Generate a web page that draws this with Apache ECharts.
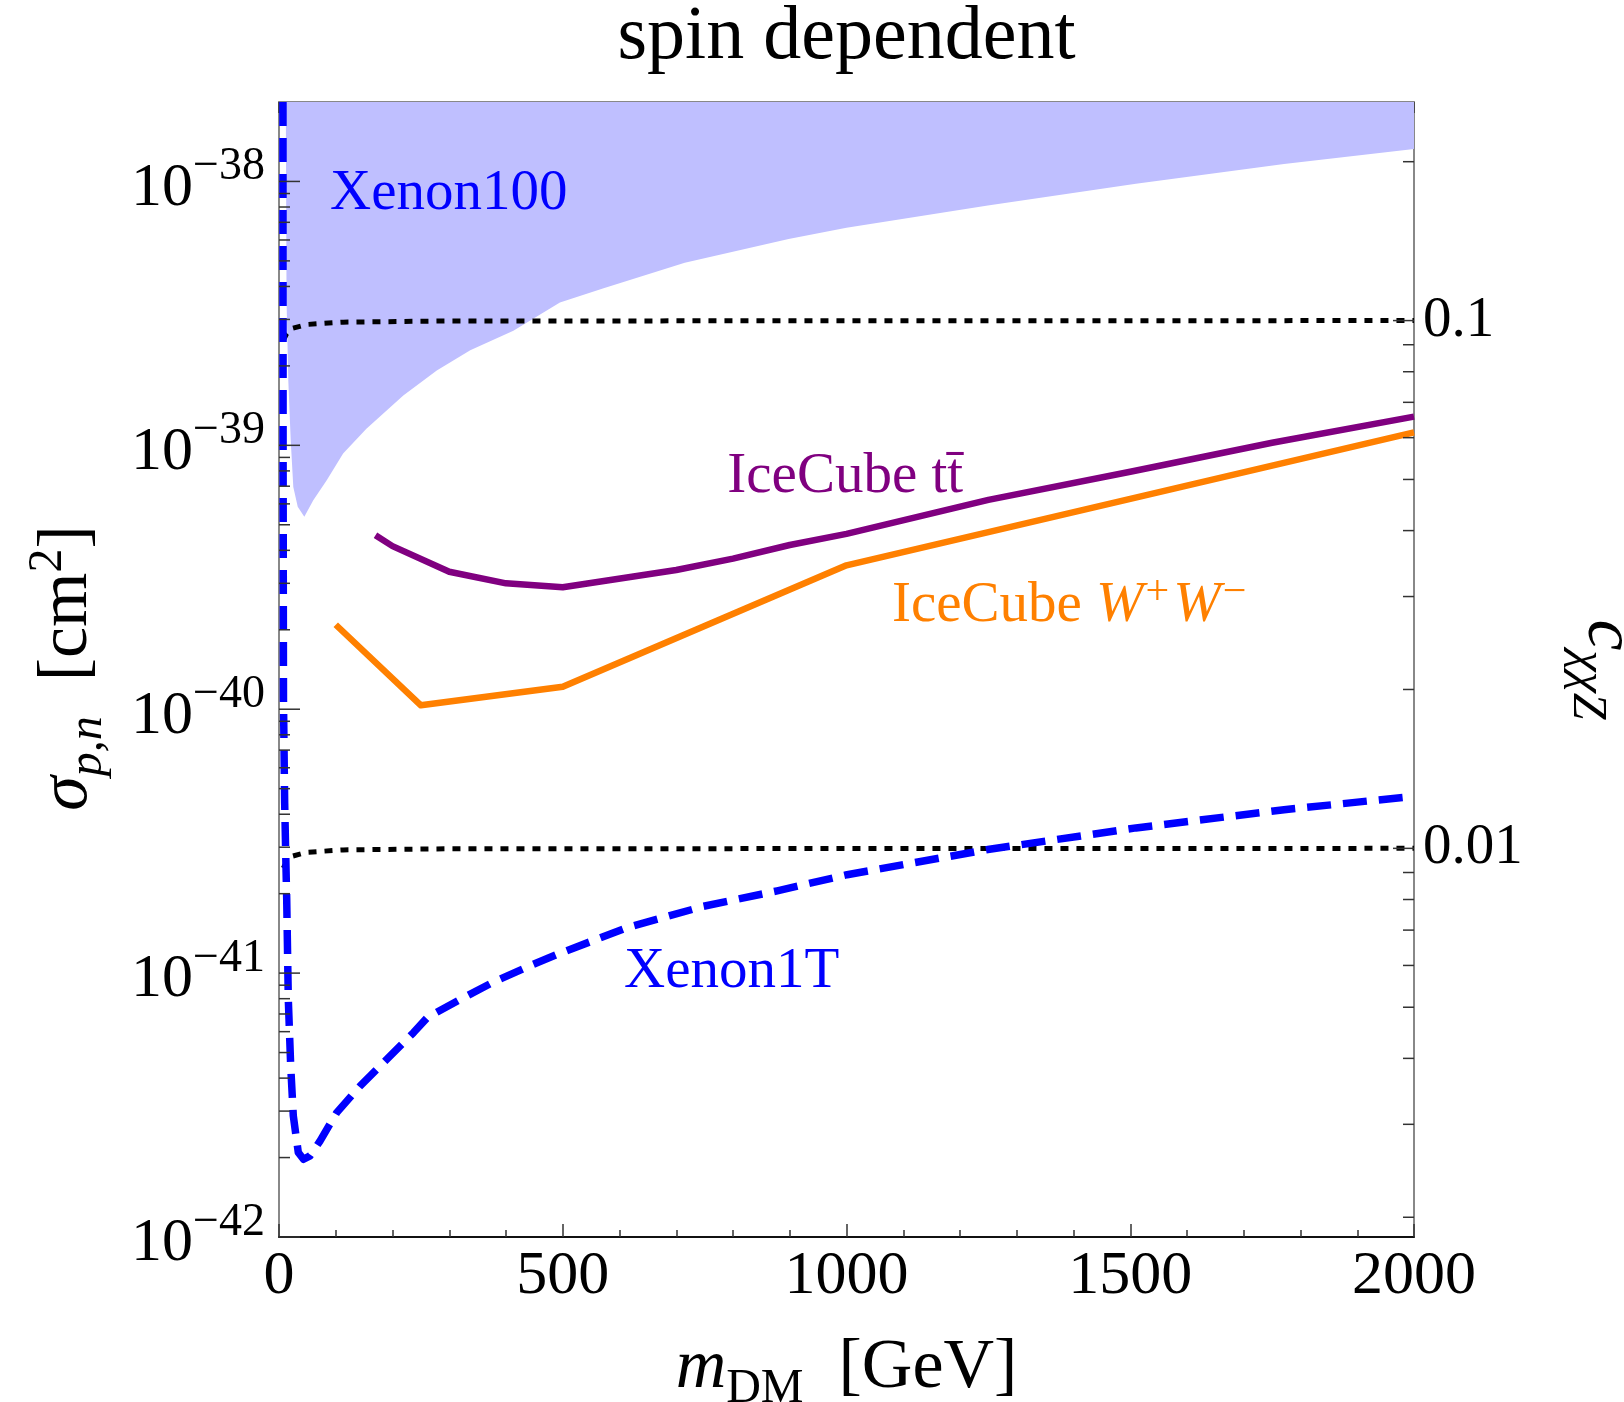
<!DOCTYPE html>
<html>
<head>
<meta charset="utf-8">
<script src="https://cdn.jsdelivr.net/npm/echarts@6/dist/echarts.min.js"></script>
<style>
html,body{margin:0;padding:0;background:#fff;}
#chart{width:1624px;height:1402px;}
</style>
</head>
<body>
<div id="chart"></div>
<script>
// ---------------- data ----------------
const massRange = [0, 2000];              // m_DM [GeV]
const sigmaRange = [1e-42, 2e-38];        // sigma_{p,n} [cm^2]
const sigmaAtUnitCoupling = 2.97e-37;     // sigma for c_chichiZ = 1 (right axis: sigma ∝ c^2)

const massTickInterval = 500;

// Xenon100 excluded region: lower boundary (region extends up to the top of the plot)
const xenon100Boundary = [
  [12, 2.0e-38], [13.3, 3.54e-39], [16.4, 1.76e-39], [20.6, 1.05e-39], [25.2, 6.95e-40],
  [33, 5.85e-40], [44.6, 5.36e-40], [60.4, 6.19e-40], [84.1, 7.38e-40], [113, 9.31e-40],
  [154, 1.156e-39], [219, 1.545e-39], [278, 1.92e-39], [337, 2.29e-39], [413, 2.72e-39],
  [495, 3.48e-39], [572, 3.94e-39], [715, 4.92e-39], [898, 6.05e-39], [1000, 6.68e-39],
  [1249, 8.11e-39], [1510, 9.79e-39], [1771, 1.164e-38], [2000, 1.327e-38]
];

// Xenon1T projected sensitivity (blue dashed)
const xenon1T = [
  [7.0, 2.0e-38], [7.2, 1.0e-39], [7.9, 1.08e-40], [10, 4.4e-41], [12.5, 2.42e-41],
  [13.6, 1.90e-41], [16.4, 7.94e-42], [20.6, 4.45e-42], [25.2, 2.88e-42], [34, 2.09e-42],
  [43.2, 1.97e-42], [54.6, 2.03e-42], [72.2, 2.31e-42], [101.7, 2.96e-42], [142.7, 3.73e-42],
  [189.8, 4.71e-42], [236.7, 5.94e-42], [262, 6.81e-42], [319, 7.94e-42], [377, 9.23e-42],
  [448, 1.079e-41], [495, 1.189e-41], [617, 1.496e-41], [748, 1.791e-41], [878, 2.05e-41],
  [1001, 2.36e-41], [1249, 2.94e-41], [1510, 3.55e-41], [1771, 4.16e-41], [2000, 4.68e-41]
];

// IceCube t tbar (purple)
const iceCubeTT = [
  [170, 4.56e-40], [200, 4.15e-40], [300, 3.32e-40], [400, 3.00e-40], [500, 2.90e-40],
  [700, 3.37e-40], [800, 3.72e-40], [900, 4.19e-40], [1000, 4.62e-40], [1250, 6.21e-40],
  [1500, 7.94e-40], [1750, 1.023e-39], [2000, 1.285e-39]
];

// IceCube W+W- (orange)
const iceCubeWW = [
  [100, 2.09e-40], [250, 1.035e-40], [500, 1.216e-40], [1000, 3.51e-40], [2000, 1.12e-39]
];

// contours of constant c_chichiZ (black dotted)
const cContour01 = [
  [7.6, 2.50e-39], [13.5, 2.65e-39], [22.4, 2.77e-39], [48.8, 2.87e-39], [113, 2.93e-39],
  [300, 2.96e-39], [2000, 2.97e-39]
];
const cContour001 = [
  [7.6, 2.50e-41], [13.5, 2.65e-41], [22.4, 2.77e-41], [48.8, 2.87e-41], [113, 2.93e-41],
  [300, 2.96e-41], [2000, 2.97e-41]
];

// tick definitions
const sigmaDecades = [-42, -41, -40, -39, -38];
const cDecades = [-3, -2, -1];
const minorMantissas = [2, 3, 4, 5, 6, 7, 8, 9];

// curve labels, anchored in data coordinates (left edge, vertical middle)
const labelAnchors = [[90, 8.98e-39], [790, 7.60e-40], [1080, 2.47e-40], [608, 1.01e-41]];
const labelTexts = [
  '{b|Xenon100}',
  '{p|IceCube t}{p|t\u0304}',
  '{o|IceCube }{oi|W}{os|+}{oi|W}{os|\u2212}',
  '{b|Xenon1T}'
];

// ---------------- chart ----------------
const FF = '"Liberation Serif", "Times New Roman", Times, serif';
const cMin = Math.sqrt(sigmaRange[0] / sigmaAtUnitCoupling);
const cMax = Math.sqrt(sigmaRange[1] / sigmaAtUnitCoupling);

function isDecade(v) {
  const e = Math.log10(v);
  return Math.abs(e - Math.round(e)) < 1e-6;
}

// [x, value, tickLength, decadeExponent or null]
const leftTicks = [];
sigmaDecades.forEach(d => {
  [1].concat(minorMantissas).forEach(k => {
    const v = k * Math.pow(10, d);
    if (v >= sigmaRange[0] * 0.999 && v < sigmaRange[1] * 0.999) {
      leftTicks.push([massRange[0], v, k === 1 ? 21 : 11, k === 1 ? d : null]);
    }
  });
});
const rightTicks = [];
cDecades.forEach(d => {
  [1].concat(minorMantissas).forEach(k => {
    const v = k * Math.pow(10, d);
    if (v > cMin && v < cMax) rightTicks.push([massRange[1], v, k === 1 ? 21 : 11]);
  });
});

const tickStyle = {stroke: '#333', lineWidth: 1.5};

const chart = echarts.init(document.getElementById('chart'), null, {renderer: 'canvas'});

const option = {
  backgroundColor: '#fff',
  animation: false,
  graphic: [
    {
      type: 'text', x: 846.5, y: 38, silent: true,
      style: {text: 'spin dependent', fontFamily: FF, fontSize: 76, fill: '#000', align: 'center', verticalAlign: 'middle'}
    },
    {
      type: 'text', x: 68, y: 668, rotation: Math.PI / 2, silent: true,
      style: {
        text: '{s|\u03c3}{sub|p,n}{n|  [cm}{sup|2}{n|]}',
        align: 'center', verticalAlign: 'middle',
        rich: {
          s: {fontFamily: FF, fontSize: 70, lineHeight: 70, fontStyle: 'italic', fill: '#000'},
          sub: {fontFamily: FF, fontSize: 48, lineHeight: 48, fontStyle: 'italic', fill: '#000', padding: [40, 0, 0, 0]},
          n: {fontFamily: FF, fontSize: 70, lineHeight: 70, fill: '#000'},
          sup: {fontFamily: FF, fontSize: 48, lineHeight: 48, fill: '#000', padding: [0, 0, 40, 0]}
        }
      }
    }
  ],
  grid: {left: 279, top: 102, right: 210, bottom: 165, containLabel: false, outerBoundsMode: 'none'},
  xAxis: [{
    type: 'value', position: 'bottom', min: massRange[0], max: massRange[1], interval: massTickInterval,
    axisLine: {show: true, onZero: false, lineStyle: {color: '#111', width: 2}},
    axisTick: {show: true, inside: true, length: 13, lineStyle: {color: '#333', width: 1.5}},
    minorTick: {show: true, splitNumber: 5, length: 7, lineStyle: {color: '#333', width: 1.5}},
    splitLine: {show: false},
    axisLabel: {show: true, margin: 9, fontFamily: FF, fontSize: 62, lineHeight: 62, color: '#000',
      formatter: v => String(v), showMinLabel: true, showMaxLabel: true},
    name: '{m|m}{sub|DM}{n|  [GeV]}',
    nameLocation: 'middle',
    nameGap: 97,
    nameMoveOverlap: false,
    nameTextStyle: {
      rich: {
        m: {fontFamily: FF, fontSize: 70, lineHeight: 70, fontStyle: 'italic', color: '#000'},
        sub: {fontFamily: FF, fontSize: 48, lineHeight: 48, color: '#000', padding: [40, 0, 0, 0]},
        n: {fontFamily: FF, fontSize: 70, lineHeight: 70, color: '#000'}
      }
    }
  }, {
    type: 'value', position: 'top', min: massRange[0], max: massRange[1], interval: massTickInterval,
    axisLine: {show: true, onZero: false, lineStyle: {color: '#888', width: 2}},
    axisTick: {show: true, inside: true, length: 11, lineStyle: {color: '#333', width: 1.5}},
    minorTick: {show: true, splitNumber: 5, length: 7, lineStyle: {color: '#333', width: 1.5}},
    splitLine: {show: false},
    axisLabel: {show: false}
  }],
  yAxis: [{
    type: 'log', logBase: 10, position: 'left', min: sigmaRange[0], max: sigmaRange[1],
    axisLine: {show: true, onZero: false, lineStyle: {color: '#888', width: 2}},
    axisTick: {show: false},
    splitLine: {show: false},
    axisLabel: {show: false}
  }, {
    type: 'log', logBase: 10, position: 'right', min: cMin, max: cMax,
    axisLine: {show: true, onZero: false, lineStyle: {color: '#888', width: 2}},
    axisTick: {show: false},
    splitLine: {show: false},
    axisLabel: {
      show: true, margin: 9, fontFamily: FF, fontSize: 57, color: '#000',
      formatter: v => isDecade(v) ? v.toFixed(-Math.round(Math.log10(v))) : ''
    },
    name: '{c|c}{sub|\u03c7\u03c7Z}',
    nameLocation: 'middle',
    nameRotate: -90,
    nameGap: 158,
    nameMoveOverlap: false,
    nameTextStyle: {
      rich: {
        c: {fontFamily: FF, fontSize: 70, lineHeight: 70, fontStyle: 'italic', color: '#000'},
        sub: {fontFamily: FF, fontSize: 48, lineHeight: 48, fontStyle: 'italic', color: '#000', padding: [40, 0, 0, 0]}
      }
    }
  }],
  series: [
    {
      name: 'Xenon100', type: 'custom', xAxisIndex: 0, yAxisIndex: 0, z: 1, silent: true,
      encode: {x: 0, y: 1},
      data: xenon100Boundary,
      renderItem: (params, api) => {
        if (params.dataIndex !== 0) return null;
        const pts = xenon100Boundary.map(d => api.coord(d));
        pts.push(api.coord([massRange[1], sigmaRange[1]]));
        pts.push(api.coord([xenon100Boundary[0][0], sigmaRange[1]]));
        return {type: 'polygon', shape: {points: pts}, style: {fill: '#bfbfff'}};
      }
    },
    {
      name: 'c=0.1', type: 'line', data: cContour01, showSymbol: false, symbol: 'none',
      lineStyle: {color: '#000', width: 5, type: [8, 8], cap: 'butt'}, z: 2
    },
    {
      name: 'c=0.01', type: 'line', data: cContour001, showSymbol: false, symbol: 'none',
      lineStyle: {color: '#000', width: 5, type: [8, 8], cap: 'butt'}, z: 2
    },
    {
      name: 'IceCube tt', type: 'line', data: iceCubeTT, showSymbol: false, symbol: 'none',
      lineStyle: {color: '#800080', width: 6.5, join: 'round'}, z: 3
    },
    {
      name: 'IceCube WW', type: 'line', data: iceCubeWW, showSymbol: false, symbol: 'none',
      lineStyle: {color: '#ff8000', width: 6.5, join: 'round'}, z: 3
    },
    {
      name: 'Xenon1T', type: 'line', data: xenon1T, showSymbol: false, symbol: 'none',
      lineStyle: {color: '#0000ff', width: 7.5, type: [24, 12], cap: 'butt', join: 'round'}, z: 4
    },
    {
      name: 'leftTicks', type: 'custom', xAxisIndex: 0, yAxisIndex: 0, clip: false, z: 10, silent: true,
      encode: {x: 0, y: 1},
      data: leftTicks,
      renderItem: (params, api) => {
        const p = api.coord([api.value(0), api.value(1)]);
        const children = [{type: 'line', shape: {x1: p[0], y1: p[1], x2: p[0] + api.value(2), y2: p[1]}, style: tickStyle}];
        const exp = leftTicks[params.dataIndex][3];
        if (exp !== null) {
          children.push({
            type: 'text', x: p[0] - 14, y: p[1] + 7,
            style: {
              text: '{b|10}{e|\u2212' + Math.abs(exp) + '}',
              align: 'right', verticalAlign: 'middle',
              rich: {
                b: {fontFamily: FF, fontSize: 62, lineHeight: 62, fill: '#000'},
                e: {fontFamily: FF, fontSize: 46, lineHeight: 46, fill: '#000', padding: [0, 0, 43, 0]}
              }
            }
          });
        }
        return {type: 'group', children: children};
      }
    },
    {
      name: 'rightTicks', type: 'custom', xAxisIndex: 0, yAxisIndex: 1, clip: false, z: 10, silent: true,
      encode: {x: 0, y: 1},
      data: rightTicks,
      renderItem: (params, api) => {
        const p = api.coord([api.value(0), api.value(1)]);
        return {type: 'line', shape: {x1: p[0] - api.value(2), y1: p[1], x2: p[0], y2: p[1]}, style: tickStyle};
      }
    },
    {
      name: 'labels', type: 'custom', xAxisIndex: 0, yAxisIndex: 0, clip: false, z: 11, silent: true,
      encode: {x: 0, y: 1},
      data: labelAnchors,
      renderItem: (params, api) => {
        const p = api.coord([api.value(0), api.value(1)]);
        return {
          type: 'text', x: p[0], y: p[1],
          style: {
            text: labelTexts[params.dataIndex],
            align: 'left', verticalAlign: 'middle',
            rich: {
              b: {fontFamily: FF, fontSize: 57, lineHeight: 57, fill: '#0000ff'},
              p: {fontFamily: FF, fontSize: 57, lineHeight: 57, fill: '#800080'},
              o: {fontFamily: FF, fontSize: 57, lineHeight: 57, fill: '#ff8000'},
              oi: {fontFamily: FF, fontSize: 57, lineHeight: 57, fontStyle: 'italic', fill: '#ff8000'},
              os: {fontFamily: FF, fontSize: 42, lineHeight: 42, fill: '#ff8000', padding: [0, 4, 25, 2]}
            }
          }
        };
      }
    }
  ]
};

chart.setOption(option);
</script>
</body>
</html>
